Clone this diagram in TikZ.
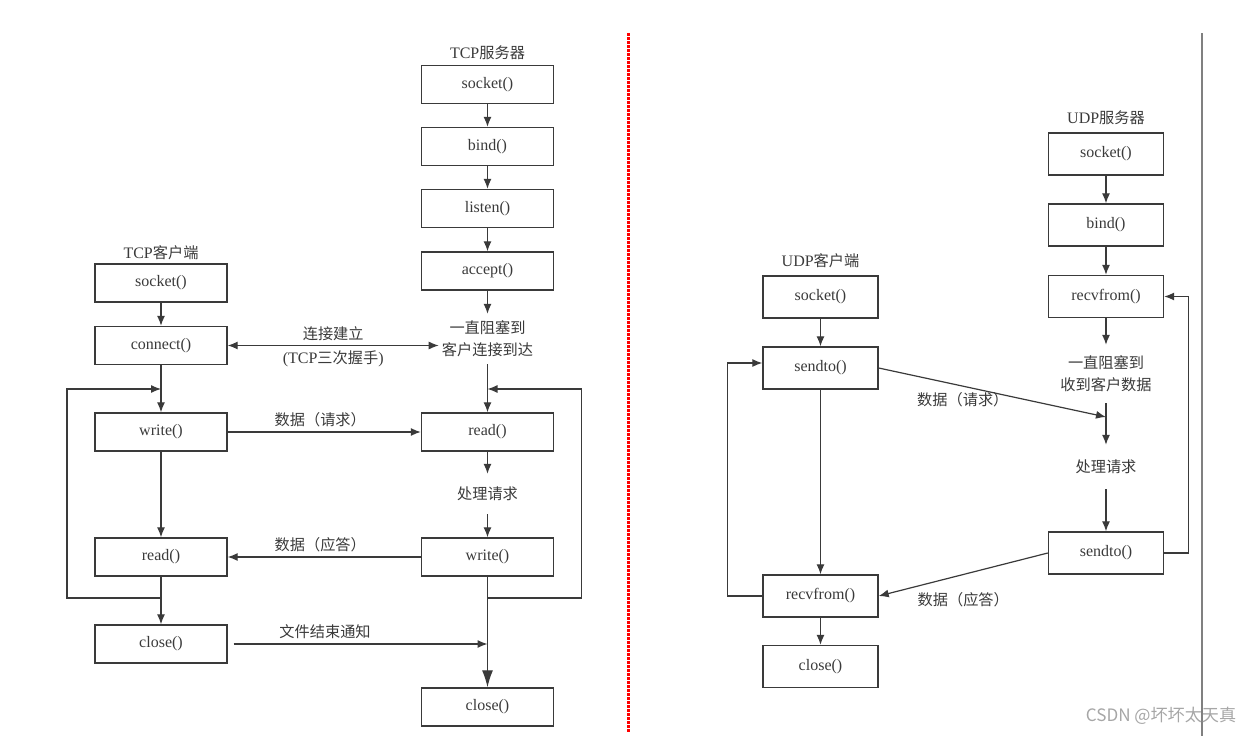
\documentclass[tikz,border=0pt]{standalone}
\usepackage{fontspec}
\setmainfont{Liberation Serif}
\newfontfamily\zhfont[Scale=0.95]{Noto Sans CJK SC}
\newcommand{\zh}[1]{{\zhfont #1}}
\usetikzlibrary{arrows.meta}
\usetikzlibrary{positioning}
\definecolor{ink}{HTML}{3A3A3A}
\tikzset{x=1pt, y=-1pt,
>={Latex[length=10pt,width=8pt]},
every node/.style={ % Sets the text of every node
text=ink,
font=\fontsize{16}{22}\selectfont},
func/.style={ % Boxes of the TCP part
draw=ink,
line width=1.4pt,
minimum width=132pt,
minimum height=38pt,
inner sep=0pt},
ufunc/.style={func, minimum width=115pt, minimum height=42pt}, % Boxes of the UDP part
note/.style={align=center, inner sep=3pt},
line/.style={draw=ink, line width=1.2pt},
flow/.style={line, ->}}

\begin{document}
\begin{tikzpicture}
\useasboundingbox (0,0) rectangle (1259,736);
% TCP client
\node (tcl) at (161,253) {TCP\zh{客户端}};
\node[func] (cs) at (161,283) {socket()};
\node[func] (cc) at (161,345.5) {connect()};
\node[func] (cw) at (161,432) {write()};
\node[func] (cr) at (161,557) {read()};
\node[func] (cx) at (161,644) {close()};
\coordinate (ck) at (161,389);
\coordinate (cj) at (161,598);
% TCP server
\node (tsl) at (487.5,53) {TCP\zh{服务器}};
\node[func] (ts) at (487.5,84.5) {socket()};
\node[func] (tb) at (487.5,146.5) {bind()};
\node[func] (tl) at (487.5,208.5) {listen()};
\node[func] (ta) at (487.5,271) {accept()};
\node[note, minimum height=50pt] (tw8) at (487.5,339) {\zh{一直阻塞到}\\\zh{客户连接到达}};
\node[func] (tr) at (487.5,432) {read()};
\node[note, minimum height=40pt] (tp) at (487.5,494) {\zh{处理请求}};
\node[func] (tv) at (487.5,557) {write()};
\node[func] (tx) at (487.5,707) {close()};
\coordinate (sk) at (487.5,389);
\coordinate (sj) at (487.5,598);
\coordinate (sx) at (487.5,644);
% TCP connectors
\draw[flow] (cs) -- (cc);
\draw[flow] (cc) -- (cw);
\draw[flow] (cw) -- (cr);
\draw[line] (cr) -- (cj);
\draw[flow] (cj) -- (cx);
\draw[flow] (cj) -- ++(-94,0) |- (ck);
\draw[flow] (ts) -- (tb);
\draw[flow] (tb) -- (tl);
\draw[flow] (tl) -- (ta);
\draw[flow] (ta) -- (tw8);
\draw[flow] (tw8) -- (tr);
\draw[flow] (tr) -- (tp);
\draw[flow] (tp) -- (tv);
\draw[line] (tv) -- (sj);
\draw[line, -{Latex[length=17pt,width=11pt]}] (sj) -- (tx);
\draw[flow] (sj) -- ++(94,0) |- (sk);
\draw[line, <->] (cc.east) -- node[above=1pt] {\zh{连接建立}} node[below=1pt] {(TCP\zh{三次握手})} (cc.east -| tw8.west);
\draw[flow] (cw) -- node[above=1pt, xshift=-4pt] {\zh{数据（请求）}} (tr);
\draw[flow] (tv) -- node[above=1pt, xshift=-4pt] {\zh{数据（应答）}} (cr);
\draw[flow] ([xshift=6pt]cx.east) -- node[above=1pt, pos=0.36] {\zh{文件结束通知}} (sx);
% separators
\draw[red, line width=3pt, dash pattern=on 2.5pt off 1.5pt] (628,33) -- (628,732);
\draw[gray, line width=2pt] (1202,33) -- (1202,736);
% UDP client
\node (ucl) at (820.5,261) {UDP\zh{客户端}};
\node[ufunc] (us) at (820.5,297) {socket()};
\node[ufunc] (ud) at (820.5,368) {sendto()};
\node[ufunc] (ur) at (820.5,596) {recvfrom()};
\node[ufunc] (ux) at (820.5,666.5) {close()};
% UDP server
\node (usl) at (1106,118) {UDP\zh{服务器}};
\node[ufunc] (vs) at (1106,154) {socket()};
\node[ufunc] (vb) at (1106,225) {bind()};
\node[ufunc] (vr) at (1106,296.5) {recvfrom()};
\node[note, minimum height=58pt] (vw8) at (1106,374) {\zh{一直阻塞到}\\\zh{收到客户数据}};
\node[note, minimum height=44pt] (vp) at (1106,467) {\zh{处理请求}};
\node[ufunc] (vd) at (1106,553) {sendto()};
\coordinate (vk) at (1106,417);
% UDP connectors
\draw[flow] (us) -- (ud);
\draw[flow] (ud) -- (ur);
\draw[flow] (ur) -- (ux);
\draw[flow] (ur.west) -- ++(-35,0) |- ([yshift=5pt]ud.west);
\draw[flow] (vs) -- (vb);
\draw[flow] (vb) -- (vr);
\draw[flow] (vr) -- (vw8);
\draw[flow] (vw8) -- (vp);
\draw[flow] (vp) -- (vd);
\draw[flow] (vd.east) -- ++(24,0) |- (vr.east);
\draw[flow] (ud.east) -- node[below=2pt, pos=0.37] {\zh{数据（请求）}} (vk);
\draw[flow] (vd.west) -- node[below=14pt, pos=0.5] {\zh{数据（应答）}} (ur.east);
% watermark
\node[text=gray!70, font=\zhfont\fontsize{18}{20}\selectfont] (wm) at (1161,716) {CSDN @坏坏太天真};
\end{tikzpicture}
\end{document}
